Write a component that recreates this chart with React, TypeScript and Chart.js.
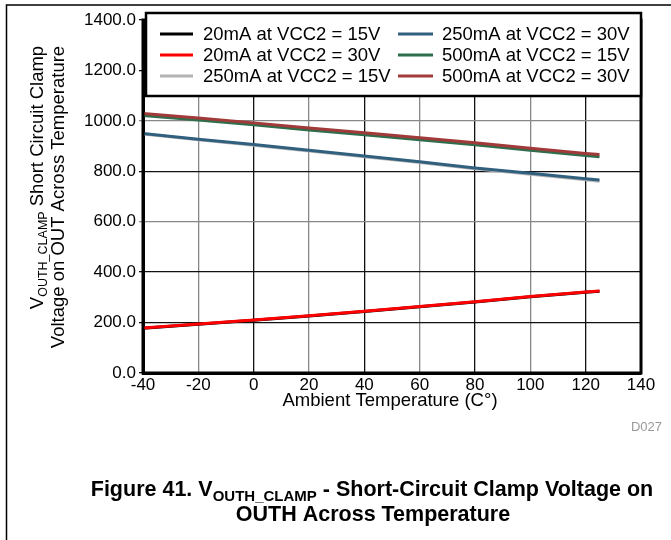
import React, { useEffect, useRef } from "react";
import { Chart, registerables } from "chart.js";

Chart.register(...registerables);

const temps = [-40, -20, 0, 20, 40, 60, 80, 100, 120, 125];
const s20mA15V = [177, 193, 209, 226, 244, 263, 282, 302, 320, 324];
const s20mA30V = [178, 194, 210, 227, 245, 264, 283, 303, 321, 325];
const s250mA15V = [948, 925, 903, 880, 858, 835, 810, 788, 766, 760];
const s250mA30V = [950, 927, 906, 883, 861, 838, 813, 792, 770, 765];
const s500mA15V = [1021, 1003, 985, 964, 945, 925, 905, 883, 863, 858];
const s500mA30V = [1029, 1011, 992, 972, 953, 933, 913, 891, 871, 867];

const xTicks = [-40, -20, 0, 20, 40, 60, 80, 100, 120, 140];
const yTicks = [0, 200, 400, 600, 800, 1000, 1200, 1400];

const FONT = '"Liberation Sans", Arial, Helvetica, sans-serif';

type Series = { label: string; data: number[]; color: string; order: number };
const seriesList: Series[] = [
  { label: "20mA at VCC2 = 15V", data: s20mA15V, color: "#000000", order: 5 },
  { label: "20mA at VCC2 = 30V", data: s20mA30V, color: "#ff0000", order: 4 },
  { label: "250mA at VCC2 = 15V", data: s250mA15V, color: "#b4b4b4", order: 3 },
  { label: "250mA at VCC2 = 30V", data: s250mA30V, color: "#30607e", order: 2 },
  { label: "500mA at VCC2 = 15V", data: s500mA15V, color: "#2e6e4c", order: 1 },
  { label: "500mA at VCC2 = 30V", data: s500mA30V, color: "#a23a3a", order: 0 },
];

type Part = { t: string; sub?: boolean };

function measureParts(ctx: CanvasRenderingContext2D, parts: Part[], size: number, subSize: number, weight: string) {
  return parts.map((p) => {
    ctx.font = `${weight} ${p.sub ? subSize : size}px ${FONT}`;
    return ctx.measureText(p.t).width;
  });
}

function drawParts(
  ctx: CanvasRenderingContext2D,
  parts: Part[],
  startX: number,
  y: number,
  size: number,
  subSize: number,
  weight: string
) {
  const widths = measureParts(ctx, parts, size, subSize, weight);
  let x = startX;
  ctx.textAlign = "left";
  ctx.textBaseline = "alphabetic";
  parts.forEach((p, i) => {
    ctx.font = `${weight} ${p.sub ? subSize : size}px ${FONT}`;
    ctx.fillText(p.t, x, p.sub ? y + size * 0.22 : y);
    x += widths[i];
  });
}

const decorPlugin = {
  id: "decor",
  beforeDraw(chart: any) {
    const ctx = chart.ctx as CanvasRenderingContext2D;
    ctx.save();
    ctx.fillStyle = "#fff";
    ctx.fillRect(0, 0, chart.width, chart.height);
    ctx.restore();
  },
  afterDatasetsDraw(chart: any) {
    const ctx = chart.ctx as CanvasRenderingContext2D;
    const a = chart.chartArea;
    ctx.save();
    // plot border
    ctx.strokeStyle = "#000";
    ctx.lineWidth = 3;
    ctx.strokeRect(a.left, a.top, a.right - a.left, a.bottom - a.top);

    // legend box
    const lx = 146, ly = 13, lw = 495, lh = 83;
    ctx.fillStyle = "#fff";
    ctx.fillRect(lx, ly, lw, lh);
    ctx.lineWidth = 2.5;
    ctx.strokeStyle = "#000";
    ctx.strokeRect(lx, ly, lw, lh);
    const rows = [34, 55, 76];
    const cols = [
      { l1: 160, l2: 193, tx: 203 },
      { l1: 398, l2: 433, tx: 442 },
    ];
    ctx.font = `18.5px ${FONT}`;
    ctx.textBaseline = "middle";
    ctx.textAlign = "left";
    seriesList.forEach((s, i) => {
      const c = cols[Math.floor(i / 3)];
      const y = rows[i % 3];
      ctx.strokeStyle = s.color;
      ctx.lineWidth = 3;
      ctx.beginPath();
      ctx.moveTo(c.l1, y);
      ctx.lineTo(c.l2, y);
      ctx.stroke();
      ctx.fillStyle = "#000";
      ctx.fillText(s.label, c.tx, y + 1);
    });
    ctx.restore();
  },
  afterDraw(chart: any) {
    const ctx = chart.ctx as CanvasRenderingContext2D;
    ctx.save();
    // page frame lines
    ctx.strokeStyle = "#000";
    ctx.lineWidth = 1.5;
    ctx.beginPath();
    ctx.moveTo(6.5, 540);
    ctx.lineTo(6.5, 5);
    ctx.lineTo(671, 5);
    ctx.stroke();

    // x title
    ctx.fillStyle = "#000";
    ctx.font = `18.5px ${FONT}`;
    ctx.textAlign = "center";
    ctx.textBaseline = "middle";
    ctx.fillText("Ambient Temperature (C°)", 390, 401);

    // D027
    ctx.fillStyle = "#9a9a9a";
    ctx.font = `13px ${FONT}`;
    ctx.textAlign = "right";
    ctx.fillText("D027", 662, 427);

    // y title (rotated), both lines end-aligned at the top
    ctx.save();
    ctx.translate(0, 197);
    ctx.rotate(-Math.PI / 2);
    ctx.fillStyle = "#000";
    ctx.font = `18.5px ${FONT}`;
    const line2 = "Voltage on OUT Across Temperature";
    const w2 = ctx.measureText(line2).width;
    const endX = w2 / 2;
    ctx.textAlign = "center";
    ctx.textBaseline = "alphabetic";
    ctx.fillText(line2, 0, 64);
    const parts1: Part[] = [{ t: "V" }, { t: "OUTH_CLAMP", sub: true }, { t: " Short Circuit Clamp" }];
    const ws1 = measureParts(ctx, parts1, 18.5, 12.5, "normal");
    const tot1 = ws1.reduce((p, c) => p + c, 0);
    drawParts(ctx, parts1, endX - tot1, 43, 18.5, 12.5, "normal");
    ctx.restore();

    // caption
    ctx.fillStyle = "#000";
    const capParts: Part[] = [
      { t: "Figure 41. V" },
      { t: "OUTH_CLAMP", sub: true },
      { t: " - Short-Circuit Clamp Voltage on" },
    ];
    const cw = measureParts(ctx, capParts, 21.5, 15, "bold").reduce((p, c) => p + c, 0);
    drawParts(ctx, capParts, 372 - cw / 2, 496, 21.5, 15, "bold");
    ctx.font = `bold 21.5px ${FONT}`;
    ctx.textAlign = "center";
    ctx.textBaseline = "alphabetic";
    ctx.fillText("OUTH Across Temperature", 373, 521);
    ctx.restore();
  },
};

export default function App() {
  const ref = useRef<HTMLCanvasElement | null>(null);
  useEffect(() => {
    if (!ref.current) return;
    const chart = new Chart(ref.current, {
      type: "line",
      data: {
        datasets: seriesList.map((s) => ({
          label: s.label,
          data: temps.map((t, i) => ({ x: t, y: s.data[i] })),
          borderColor: s.color,
          backgroundColor: s.color,
          borderWidth: 3,
          pointRadius: 0,
          tension: 0,
          order: s.order,
        })),
      },
      options: {
        responsive: false,
        animation: false,
        layout: { padding: { left: 0, top: 20, right: 30, bottom: 0 } },
        plugins: { legend: { display: false }, tooltip: { enabled: false } },
        scales: {
          x: {
            type: "linear",
            min: -40,
            max: 140,
            afterBuildTicks: (axis: any) => {
              axis.ticks = xTicks.map((v) => ({ value: v }));
            },
            afterFit: (axis: any) => {
              axis.height = 167;
            },
            ticks: {
              color: "#000",
              font: { size: 17, family: FONT },
              padding: 2,
              maxRotation: 0,
              autoSkip: false,
              callback: (v: any) => String(v),
            },
            grid: {
              drawTicks: false,
              lineWidth: 1.3,
              color: (c: any) =>
                c.tick && Math.abs(c.tick.value) % 40 === 0 ? "#111" : "#888",
            },
            border: { display: true, color: "#000", width: 3 },
          },
          y: {
            type: "linear",
            min: 0,
            max: 1400,
            afterBuildTicks: (axis: any) => {
              axis.ticks = yTicks.map((v) => ({ value: v }));
            },
            afterFit: (axis: any) => {
              axis.width = 143;
            },
            ticks: {
              color: "#000",
              font: { size: 17, family: FONT },
              padding: 3,
              autoSkip: false,
              callback: (v: any) => Number(v).toFixed(1),
            },
            grid: {
              drawTicks: true,
              tickLength: 4,
              lineWidth: 1.3,
              color: (c: any) =>
                c.tick && (c.tick.value === 600 || c.tick.value === 1000)
                  ? "#888"
                  : "#111",
            },
            border: { display: true, color: "#000", width: 3 },
          },
        },
      },
      plugins: [decorPlugin],
    } as any);
    return () => chart.destroy();
  }, []);
  return (
    <div style={{ position: "fixed", left: 0, top: 0, width: 671, height: 540, background: "#fff" }}>
      <canvas ref={ref} width={671} height={540} style={{ display: "block" }} />
    </div>
  );
}
